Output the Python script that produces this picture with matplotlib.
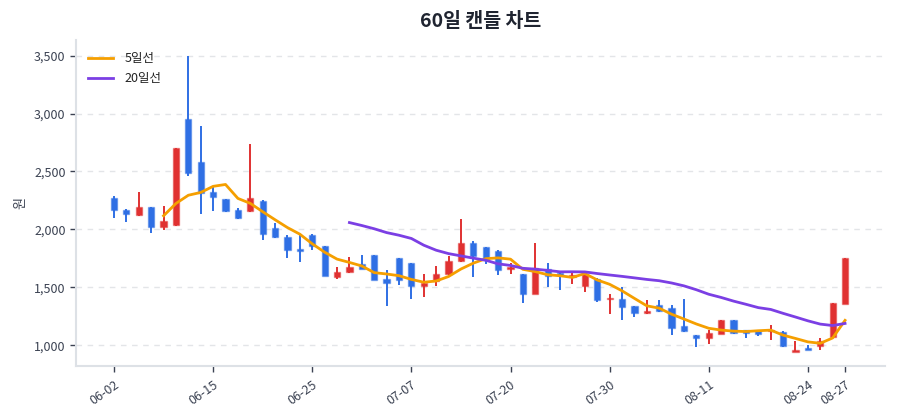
import numpy as np
import pandas as pd
import matplotlib
matplotlib.use('Agg')
import matplotlib.pyplot as plt
from matplotlib.ticker import FuncFormatter

plt.rcParams['font.family'] = ['Noto Sans CJK KR', 'DejaVu Sans']

# 시가 / 고가 / 저가 / 종가 (60 거래일)
opens = [2270, 2170, 2127, 2196, 2017, 2037, 2953, 2580, 2326, 2265,
         2165, 2156, 2248, 2009, 1931, 1827, 1950, 1858, 1588, 1630,
         1700, 1775, 1575, 1749, 1711, 1511, 1555, 1613, 1725, 1884,
         1844, 1815, 1656, 1613, 1439, 1662, 1625, 1589, 1509, 1569,
         1396, 1402, 1338, 1277, 1344, 1321, 1162, 1092, 1063, 1098,
         1214, 1133, 1127, 1121, 1115, 938, 976, 993, 1069, 1353]
highs = [2290, 2175, 2326, 2196, 2200, 2702, 3500, 2890, 2370, 2265,
         2185, 2737, 2250, 2057, 1948, 1948, 1957, 1860, 1673, 1763,
         1775, 1775, 1653, 1750, 1711, 1619, 1685, 1769, 2087, 1896,
         1844, 1820, 1711, 1613, 1887, 1714, 1633, 1633, 1613, 1581,
         1445, 1500, 1340, 1393, 1393, 1344, 1402, 1092, 1133, 1220,
         1220, 1135, 1135, 1179, 1120, 1036, 1006, 1059, 1364, 1757]
lows = [2095, 2065, 2120, 1971, 1995, 2030, 2460, 2133, 2160, 2150,
        2090, 2150, 1907, 1930, 1749, 1723, 1821, 1595, 1575, 1628,
        1655, 1565, 1340, 1518, 1396, 1416, 1511, 1610, 1720, 1589,
        1699, 1604, 1613, 1367, 1439, 1500, 1474, 1531, 1459, 1373,
        1266, 1221, 1240, 1269, 1290, 1090, 1115, 988, 1012, 1095,
        1100, 1063, 1078, 1046, 986, 938, 956, 956, 1069, 1353]
closes = [2170, 2130, 2196, 2017, 2075, 2702, 2485, 2317, 2280, 2156,
          2100, 2271, 1957, 1933, 1818, 1815, 1855, 1595, 1635, 1675,
          1662, 1567, 1537, 1561, 1515, 1541, 1619, 1731, 1884, 1769,
          1734, 1653, 1676, 1445, 1671, 1598, 1610, 1604, 1613, 1393,
          1411, 1329, 1277, 1292, 1292, 1150, 1121, 1063, 1107, 1214,
          1104, 1104, 1098, 1133, 997, 962, 956, 1036, 1364, 1757]

tick_idx = [0, 8, 16, 24, 32, 40, 48, 56, 59]
tick_labels = ['06-02', '06-15', '06-25', '07-07', '07-20',
               '07-30', '08-11', '08-24', '08-27']

UP = '#e03131'
DOWN = '#2f6fe4'
MA5_COLOR = '#f59f00'
MA20_COLOR = '#7b3fe4'
TEXT = '#3b4252'

df = pd.DataFrame({'open': opens, 'high': highs, 'low': lows, 'close': closes})
df['ma5'] = df['close'].rolling(5).mean()
df['ma20'] = df['close'].rolling(20).mean()
x = np.arange(len(df))

fig = plt.figure(figsize=(9, 4.2), dpi=100)
ax = fig.add_axes([0.0844, 0.1286, 0.8986, 0.7764])

for i, row in df.iterrows():
    color = UP if row['close'] >= row['open'] else DOWN
    ax.vlines(i, row['low'], row['high'], color=color, linewidth=1.4, zorder=2)
    lo = min(row['open'], row['close'])
    h = max(abs(row['close'] - row['open']), 8)
    ax.bar(i, h, bottom=lo, width=0.5, color=color,
           edgecolor=matplotlib.colors.to_rgba(color, 0.45), linewidth=1.0, zorder=2)

ax.plot(x, df['ma5'], color=MA5_COLOR, linewidth=2, label='5일선', zorder=3)
ax.plot(x, df['ma20'], color=MA20_COLOR, linewidth=2, label='20일선', zorder=3)

ax.set_xlim(-3.07, 62.2)
ax.set_ylim(821, 3636)
ax.set_yticks([1000, 1500, 2000, 2500, 3000, 3500])
ax.yaxis.set_major_formatter(FuncFormatter(lambda v, p: f'{int(v):,}'))
ax.set_xticks(tick_idx)
ax.set_xticklabels(tick_labels, rotation=35, ha='right', rotation_mode='anchor')

ax.grid(axis='y', linestyle=(0, (4, 4)), color='#e3e5e8', linewidth=1)
ax.set_axisbelow(True)
for s in ['top', 'right']:
    ax.spines[s].set_visible(False)
for s in ['left', 'bottom']:
    ax.spines[s].set_color('#dde1e6')
    ax.spines[s].set_linewidth(1.5)
ax.tick_params(axis='both', colors=TEXT, labelsize=9, length=4, width=1)
ax.tick_params(axis='x', pad=5)

ax.set_ylabel('원', color=TEXT, fontsize=9.5, labelpad=5)
fig.suptitle('60일 캔들 차트', x=0.534, y=0.972, fontsize=14, fontweight='bold', color='#1f2430')

leg = ax.legend(loc='upper left', frameon=False, fontsize=9, handlelength=2.0,
                borderaxespad=0.6, labelspacing=0.55, handletextpad=0.9)
for t in leg.get_texts():
    t.set_color('#222222')

fig.savefig('out.png', dpi=100)
